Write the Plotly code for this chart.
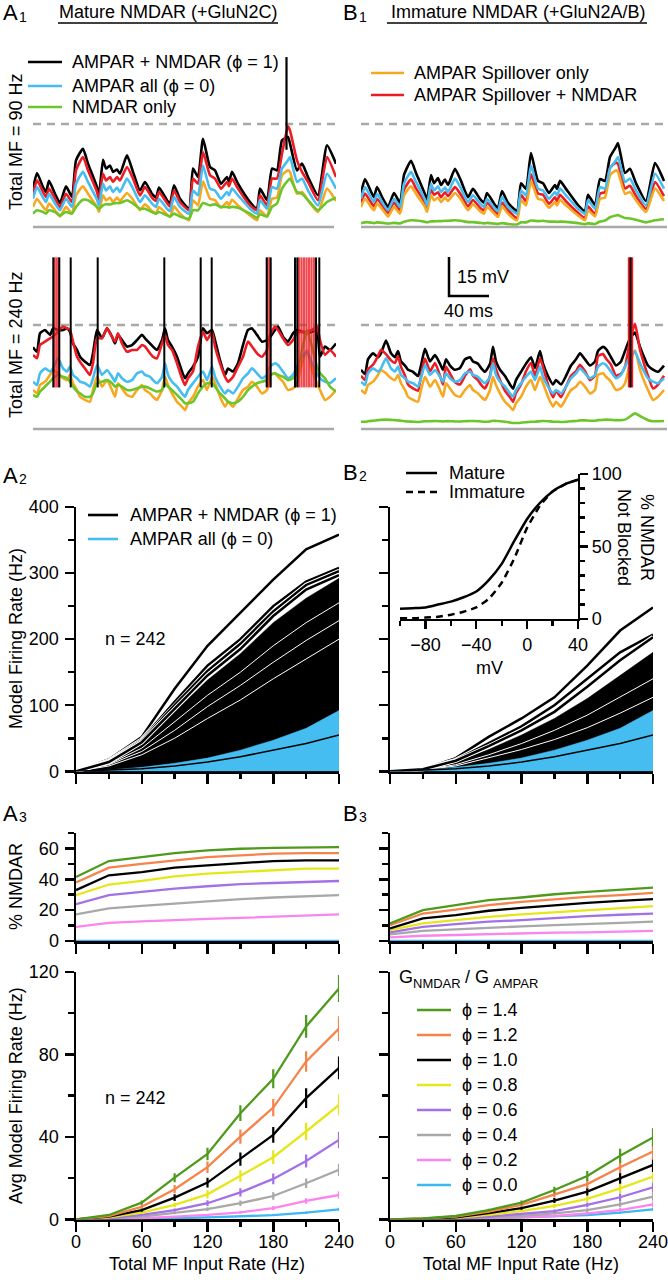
import plotly.graph_objects as go

# ====================== DATA ======================
# --- A1/B1 membrane potential traces: time (ms), potential (mV above rest) ---
t90 = [0,4,10,13,16,22,27,33,39,43,50,55,64,66,70,73,77,80,84,87,94,100,107,112,119,123,126,134,137,141,
       147,156,160,165,170,177,182,188,194,196,199,205,217,224,227,234,239,244,249,255,257,264,269,275,285,294,303]
a90_black = [14.9,21.0,15.5,13.6,17.9,12.9,9.3,15.8,11.7,25.9,30.4,24.6,15.5,12.3,26.1,22.7,23.9,21.4,22.3,20.7,
             27.8,21.4,14.2,17.5,12.9,11.4,15.3,10.4,9.1,16.2,11.0,7.1,22.7,19.4,34.3,23.3,22.0,16.8,19.4,17.5,
             21.4,16.8,9.7,7.1,14.9,10.4,22.7,22.0,33.7,35.0,32.4,22.0,24.6,19.4,12.3,31.7,24.6]
a90_red = [12.9,18.1,13.6,11.7,14.9,11.0,7.8,12.9,9.7,22.0,27.2,22.0,13.6,10.6,20.7,18.1,19.4,17.5,19.4,18.1,
           23.3,18.8,12.3,15.5,11.4,10.1,13.6,9.3,8.0,14.2,9.7,6.5,18.8,16.8,29.1,20.1,18.8,14.9,17.5,15.8,
           18.8,14.9,8.4,6.5,12.3,8.4,18.8,18.8,28.5,39.1,37.5,25.9,21.4,17.5,10.4,27.2,19.4]
a90_blue = [11.0,15.5,11.4,9.7,12.9,9.1,6.5,11.0,7.8,16.8,21.4,17.5,10.6,8.4,16.8,14.2,15.8,13.6,15.3,13.6,
            18.8,14.9,9.7,12.3,9.1,7.8,11.0,7.1,6.2,11.7,7.8,5.2,14.2,12.3,23.9,14.9,14.2,11.0,13.6,12.3,
            14.9,12.3,7.1,5.2,10.4,7.1,15.5,14.9,22.7,25.9,27.2,17.5,18.8,14.2,8.4,20.7,14.9]
a90_orange = [7.8,11.0,7.8,6.5,9.1,6.5,4.1,7.8,5.2,12.3,15.8,12.9,7.8,5.8,12.3,10.4,11.4,9.7,11.4,10.1,
              13.2,10.6,6.5,8.8,6.2,5.2,7.8,4.9,3.9,8.0,5.2,2.6,10.4,8.4,17.7,11.0,10.4,7.5,9.7,8.4,
              10.6,8.4,4.5,2.6,6.5,4.1,11.0,11.4,20.1,22.0,21.4,12.9,13.6,10.4,5.8,14.9,10.1]
a90_green = [5.2,6.5,5.8,5.2,6.5,5.8,4.5,5.8,5.2,7.8,10.6,10.4,7.8,7.1,8.4,8.8,8.8,9.1,9.3,9.3,
             10.4,9.1,7.1,7.1,5.8,5.2,5.8,4.5,4.1,5.2,4.1,3.2,6.5,6.5,9.3,8.4,8.8,7.8,7.8,7.5,
             7.8,7.5,5.2,3.6,4.9,4.1,7.8,9.1,14.9,18.1,18.8,13.6,12.9,10.4,6.5,9.7,11.4]
b90_black = [13.2,18.6,13.7,11.6,15.5,10.9,7.8,13.2,9.4,20.2,25.7,21.0,12.7,10.1,20.2,17.0,19.0,16.3,18.4,16.3,
             22.6,17.9,11.6,14.8,10.9,9.4,13.2,8.5,7.4,14.0,9.4,6.2,17.0,14.8,28.7,17.9,17.0,13.2,16.3,14.8,
             17.9,14.8,8.5,6.2,12.5,8.5,18.6,17.9,27.2,31.1,32.6,21.0,22.6,17.0,10.1,24.8,17.9]
b90_red = [9.5,13.0,9.5,8.0,11.0,8.0,5.5,9.5,6.5,14.5,18.5,15.0,9.5,7.0,14.5,12.5,13.5,11.5,13.5,12.0,
           15.5,12.5,8.0,10.5,7.5,6.5,9.5,6.0,5.0,9.5,6.5,3.5,12.5,10.0,20.5,13.0,12.5,9.0,11.5,10.0,
           12.5,10.0,5.5,3.5,8.0,5.0,13.0,13.5,23.0,25.0,24.5,15.0,16.0,12.0,7.0,17.5,12.0]
b90_green = [1.5,1.8,1.7,1.5,1.8,1.6,1.3,1.6,1.4,2.0,2.6,2.5,2.0,1.8,2.2,2.2,2.3,2.3,2.4,2.4,
             2.6,2.4,1.9,1.9,1.6,1.4,1.6,1.3,1.2,1.5,1.2,1.0,1.8,1.8,2.5,2.3,2.4,2.1,2.1,2.0,
             2.1,2.0,1.5,1.1,1.4,1.2,2.1,2.5,3.8,4.5,4.6,3.5,3.3,2.8,1.8,2.6,3.0]
# AMPAR-only conditions (blue, orange) are the same simulation in A1 and B1
b90_blue = a90_blue
b90_orange = a90_orange
a90_black_spikes = [253.5]

t240 = [0,4,7,12,17,20,25,30,34,37,40,44,47,52,57,60,64,69,74,79,82,85,89,94,99,104,109,112,117,120,
        124,129,132,135,139,144,149,152,155,160,165,170,174,179,182,187,192,195,200,205,210,215,219,224,229,
        234,237,242,245,250,255,260,264,269,274,279,284,287,292,297,303]
a240_black = [31.4,29.7,36.8,38.1,36.2,38.7,38.1,38.1,38.7,37.4,32.9,30.4,27.8,25.9,24.6,29.1,38.1,34.9,38.7,35.5,
              32.9,36.2,34.2,31.7,32.3,34.2,36.2,34.9,32.9,31.7,30.4,34.2,38.7,34.2,31.7,27.8,22.1,19.5,21.4,24.0,
              27.8,38.7,36.8,38.1,34.2,26.5,20.8,23.3,22.1,25.3,32.3,38.1,38.7,36.2,33.6,34.2,35.3,38.1,39.4,35.5,
              33.6,36.8,38.1,37.4,36.8,37.4,38.1,27.8,31.7,30.4,32.9]
a240_red = [28.5,27.2,32.3,33.6,34.9,35.5,37.4,39.4,38.7,38.1,33.6,27.8,25.9,23.3,20.8,25.3,34.9,34.9,38.7,35.5,
            33.6,36.8,32.9,29.7,30.4,30.4,32.3,31.7,29.1,27.8,27.2,32.9,36.2,32.3,30.4,25.3,19.5,16.9,19.5,22.1,
            31.7,37.4,34.2,37.4,31.7,25.3,20.1,18.2,20.1,24.0,27.8,33.6,31.7,29.1,27.8,30.4,36.2,39.4,38.1,34.9,
            32.3,34.2,36.8,37.4,37.4,38.1,39.4,34.2,28.5,30.4,27.8]
a240_blue = [18.2,16.9,21.4,23.3,22.1,23.3,27.2,23.3,22.1,24.0,20.8,19.5,18.2,17.6,16.3,19.5,24.6,20.8,22.7,20.1,
             18.2,21.4,19.5,18.2,18.8,21.4,22.1,20.8,20.1,18.8,17.6,20.1,25.3,20.8,18.2,16.3,13.7,12.4,15.0,17.6,
             20.1,22.1,18.8,24.0,20.1,16.3,13.7,15.0,13.7,16.3,19.5,21.4,23.3,21.4,19.5,20.8,24.0,25.3,24.6,22.1,
             19.5,20.8,24.0,27.8,29.7,25.3,21.4,19.5,18.2,17.6,19.5]
a240_orange = [15.0,13.7,16.9,18.2,20.8,22.7,21.4,19.5,18.8,20.8,17.6,15.0,12.4,11.2,10.5,15.0,20.1,16.3,18.8,15.0,
               12.4,17.6,15.6,13.1,12.4,15.0,16.9,15.0,13.7,12.4,11.2,15.0,20.1,16.9,13.7,10.5,8.6,7.3,9.9,12.4,
               16.3,18.8,15.0,20.1,17.6,12.4,8.6,10.5,8.6,11.8,15.0,16.3,18.2,16.3,13.7,15.0,20.8,21.4,20.1,18.2,
               15.0,15.6,17.6,25.3,30.4,22.7,17.6,15.0,11.2,12.4,15.0]
a240_green = [13.1,12.4,14.4,16.3,18.2,19.5,20.8,20.1,19.5,18.2,16.3,14.4,13.7,12.4,12.4,13.7,17.6,18.2,18.8,17.6,
              16.3,16.9,16.3,15.0,15.0,15.6,16.3,16.3,15.6,15.0,14.4,15.0,17.6,16.3,15.0,13.1,11.2,9.9,9.9,10.5,
              13.7,16.3,17.6,17.6,16.3,13.7,11.8,10.5,9.9,10.5,12.4,15.0,16.3,17.6,18.2,18.8,20.8,21.4,20.8,20.1,
              18.8,19.5,21.4,30.4,38.1,31.7,24.0,21.4,19.5,16.3,14.4]
b240_black = [22.8,21.1,26.8,29.1,27.6,29.1,34.0,29.1,27.6,30.0,26.0,24.4,22.8,22.0,20.4,24.4,30.8,26.0,28.4,25.1,
              22.8,26.8,24.4,22.8,23.5,26.8,27.6,26.0,25.1,23.5,22.0,25.1,31.6,26.0,22.8,20.4,17.1,15.5,18.8,22.0,
              25.1,27.6,23.5,30.0,25.1,20.4,17.1,18.8,17.1,20.4,24.4,26.8,29.1,26.8,24.4,26.0,30.0,31.6,30.8,27.6,
              24.4,26.0,30.0,34.8,37.1,31.6,26.8,24.4,22.8,22.0,24.4]
b240_red = [20.5,18.8,23.0,24.7,28.0,30.5,28.8,26.4,25.4,28.0,23.9,20.5,17.1,15.6,14.7,20.5,27.1,22.2,25.4,20.5,
            17.1,23.9,21.3,18.0,17.1,20.5,23.0,20.5,18.8,17.1,15.6,20.5,27.1,23.0,18.8,14.7,12.2,10.5,13.9,17.1,
            22.2,25.4,20.5,27.1,23.9,17.1,12.2,14.7,12.2,16.3,20.5,22.2,24.7,22.2,18.8,20.5,28.0,28.8,27.1,24.7,
            20.5,21.3,23.9,33.9,40.5,30.5,23.9,20.5,15.6,17.1,20.5]
b240_green = [2.8,2.8,3.0,3.2,3.4,3.5,3.6,3.5,3.4,3.3,3.2,3.0,2.9,2.8,2.7,2.8,3.0,3.0,3.1,3.0,
              2.9,3.0,3.0,2.9,2.9,3.0,3.1,3.1,3.0,2.9,2.8,2.9,3.2,3.1,3.0,2.8,2.5,2.3,2.3,2.4,
              2.6,2.8,2.8,3.0,3.1,3.0,2.8,2.8,2.7,2.8,3.0,3.1,3.3,3.3,3.2,3.2,3.4,3.5,3.6,3.5,
              3.4,3.4,3.6,4.8,6.0,5.0,4.0,3.4,3.0,3.0,3.1]
b240_blue = a240_blue
b240_orange = a240_orange
a240_black_spikes = [20.3, 26.3, 37.7, 64.7, 131.3, 167.7, 178.7, 233.7, 237.7, 262.0, 264.3, 283.0, 286.3]
a240_red_spikes = [21.5, 23.5, 25.3, 234.7, 236.7, 266.0, 268.5, 271.0, 273.5, 276.0, 278.5, 281.0]
b240_black_spikes = [269.5]
b240_red_spikes = [268.3, 270.7]
spike_peak_mv = 66.0
spike_trough_mv = 16.0
a90_spike_trough_mv = 30.0
rest_mv = 0.0
threshold_mv = 40.0

# --- A2/B2 model firing rates (Hz) vs total MF input rate (Hz) ---
rate_x = [0, 30, 60, 90, 120, 150, 180, 210, 240]
a2_black_lines = [[0, 18, 52, 125, 190, 240, 290, 336, 358],
                  [0, 16, 48, 105, 160, 200, 250, 287, 308],
                  [0, 15, 46, 100, 152, 193, 242, 282, 303],
                  [0, 14, 44, 95, 145, 185, 235, 275, 297]]
a2_black_band_top = [0, 13, 42, 90, 138, 178, 225, 262, 292]
a2_gaps = [[0, 11, 35, 75, 115, 150, 190, 225, 255],
           [0, 10, 30, 62, 98, 130, 165, 198, 228],
           [0, 8, 25, 50, 80, 108, 140, 170, 200]]
blue_band_top = [0, 2, 6, 12, 20, 32, 47, 65, 92]
black_in_blue = [[0, 1.5, 4, 8, 14, 22, 32, 42, 55]]
b2_black_lines = [[0, 3, 20, 52, 80, 112, 160, 213, 248],
                  [0, 3, 17, 42, 68, 100, 140, 180, 207],
                  [0, 3, 16, 38, 62, 90, 128, 168, 203]]
b2_black_band_top = [0, 3, 14, 33, 55, 80, 110, 145, 180]
b2_gaps = [[0, 2, 10, 25, 42, 62, 85, 112, 140],
           [0, 2, 8, 20, 33, 48, 66, 88, 112]]

# --- B2 inset: Mg block (% NMDAR not blocked) vs membrane potential ---
mv = [-100, -90, -80, -70, -60, -50, -40, -30, -20, -10, 0, 10, 20, 30, 40]
mature_unblocked = [7, 7.5, 8, 10, 12, 15, 19, 27, 38, 54, 69, 80, 88, 93, 96]
immature_unblocked = [0.5, 0.5, 1, 1.5, 3, 5, 8, 14, 25, 42, 63, 78, 88, 93, 96]

# --- A3/B3 % NMDAR, A4/B4 average firing rate, for each phi ---
phi_labels = ['ϕ = 1.4', 'ϕ = 1.2', 'ϕ = 1.0', 'ϕ = 0.8', 'ϕ = 0.6', 'ϕ = 0.4', 'ϕ = 0.2', 'ϕ = 0.0']
phi_colors = ['#4e9a1c', '#f5834a', '#000000', '#e6e61a', '#a470e6', '#a8a8a8', '#fb84ef', '#3db8f2']
a3_pct = [[41.5, 51.8, 54.4, 57, 58.7, 59.8, 60.4, 60.8, 60.8],
          [37.9, 47.5, 50, 52.3, 54.4, 55.5, 56.6, 57, 57],
          [33, 42.6, 44.7, 47.5, 49, 50.5, 51.8, 52.3, 52.3],
          [29.7, 36.6, 38.9, 41.9, 43.7, 44.7, 45.8, 46.9, 46.9],
          [23.9, 29.7, 31.8, 34, 35.5, 36.8, 37.6, 38.3, 38.9],
          [17.2, 21.1, 22.8, 24.3, 25.8, 27.1, 28.2, 29, 29.7],
          [9.2, 11.8, 12.7, 13.7, 14.4, 15, 15.7, 16.6, 17.2],
          [0, 0, 0, 0, 0, 0, 0, 0, 0]]
b3_pct = [[11.4, 20, 23.2, 26.5, 28.2, 30.3, 31.8, 33.3, 34.6],
          [10.3, 17.8, 20.4, 23.2, 25.4, 27.1, 28.6, 29.7, 31.2],
          [8.2, 14.6, 16.8, 19.6, 21.5, 23.2, 24.7, 26, 27.1],
          [7.1, 11.4, 13.5, 15.7, 17.2, 18.5, 20, 21.1, 22.6],
          [5.6, 9.2, 11, 12.5, 13.5, 15, 16.1, 17, 17.8],
          [4.3, 6.5, 7.5, 8.6, 9.5, 10.3, 11.2, 11.8, 12.5],
          [2.4, 3.4, 3.9, 4.5, 5, 5.4, 5.6, 6, 6.5],
          [0, 0, 0, 0, 0, 0, 0, 0, 0]]
a4_rate = [[0, 2.1, 8.1, 20.2, 31.7, 51.5, 68.2, 93.6, 112],
           [0, 1.5, 6.1, 14.6, 25.3, 40.1, 54.2, 76.6, 92.5],
           [0, 1.3, 4.5, 10.5, 17.8, 29.2, 41, 58.8, 73.5],
           [0, 1.0, 3.2, 7, 12.1, 21, 30.1, 42.6, 55.5],
           [0, 0.6, 2.1, 4.5, 7.8, 13.1, 19.6, 28.3, 38.5],
           [0, 0.4, 1.3, 3, 4.9, 7.8, 11.3, 17.5, 24],
           [0, 0.2, 0.5, 1.3, 2.1, 3.4, 5.4, 8.9, 11.8],
           [0, 0.1, 0.2, 0.5, 0.9, 1.4, 2.0, 3.2, 4.8]]
a4_sem = [[0, 0.3, 1, 2.2, 3, 3.8, 4.6, 5.5, 6.5],
          [0, 0.3, 0.9, 2, 2.8, 3.5, 4.2, 5, 6],
          [0, 0.2, 0.8, 1.6, 2.4, 3.2, 3.8, 4.8, 5.5],
          [0, 0.2, 0.6, 1.2, 2, 2.8, 3.4, 4.2, 5],
          [0, 0.1, 0.4, 0.8, 1.4, 2, 2.6, 3.2, 4],
          [0, 0.1, 0.3, 0.5, 0.9, 1.3, 1.8, 2.3, 3],
          [0, 0, 0.2, 0.3, 0.5, 0.7, 1, 1.3, 1.8],
          [0, 0, 0.1, 0.2, 0.3, 0.3, 0.4, 0.6, 0.8]]
b4_rate = [[0, 0.4, 1.6, 4.5, 8.1, 14.2, 21, 30.8, 39.7],
           [0, 0.3, 1.3, 3.7, 7, 12, 17.1, 25.3, 32.9],
           [0, 0.2, 1, 3, 5.4, 9.1, 13.4, 19.9, 26.4],
           [0, 0.2, 0.7, 2.1, 4, 6.5, 9.9, 15, 20.7],
           [0, 0.1, 0.5, 1.3, 2.6, 4, 7, 10.7, 15.5],
           [0, 0.1, 0.3, 0.8, 1.6, 2.9, 4.5, 7.3, 11],
           [0, 0.1, 0.2, 0.5, 1, 1.6, 2.9, 4.5, 7.3],
           [0, 0.1, 0.2, 0.5, 0.9, 1.4, 2.0, 3.2, 4.8]]
b4_sem = [[0, 0.1, 0.3, 0.6, 1.0, 1.6, 2.4, 3.4, 4.5],
          [0, 0.1, 0.3, 0.5, 0.9, 1.4, 2.1, 3, 4],
          [0, 0.1, 0.2, 0.4, 0.8, 1.2, 1.8, 2.6, 3.5],
          [0, 0, 0.2, 0.3, 0.6, 1, 1.5, 2.2, 3],
          [0, 0, 0.1, 0.3, 0.5, 0.8, 1.2, 1.8, 2.5],
          [0, 0, 0.1, 0.2, 0.3, 0.6, 0.9, 1.4, 2],
          [0, 0, 0, 0.1, 0.2, 0.4, 0.6, 1, 1.4],
          [0, 0, 0.1, 0.2, 0.3, 0.3, 0.4, 0.6, 0.8]]

# ====================== STYLE / LAYOUT ======================
W, H = 668, 1280
FONT = 'Liberation Sans, Arial, Helvetica, sans-serif'
C_BLACK, C_RED, C_BLUE, C_ORANGE, C_GREEN = '#000000', '#ec1c24', '#45bdf0', '#f6a821', '#6cc529'
C_GRAY = '#a9a9a9'

fig = go.Figure()
layout = dict(width=W, height=H, autosize=False, margin=dict(l=0, r=0, t=0, b=0, pad=0, autoexpand=False),
              paper_bgcolor='white', plot_bgcolor='rgba(0,0,0,0)', showlegend=False,
              font=dict(family=FONT, size=18, color='black'))
annotations, shapes = [], []


def names(n):
    return ('x' if n == 1 else f'x{n}', 'y' if n == 1 else f'y{n}')


def add_axes(n, xpx, ypx, xr, yr, xopts=None, yopts=None):
    xa_name, ya_name = names(n)
    xk = 'xaxis' if n == 1 else f'xaxis{n}'
    yk = 'yaxis' if n == 1 else f'yaxis{n}'
    xa = dict(domain=[xpx[0] / W, xpx[1] / W], range=xr, anchor=ya_name, fixedrange=True, automargin=False)
    ya = dict(domain=[1 - ypx[1] / H, 1 - ypx[0] / H], range=yr, anchor=xa_name, fixedrange=True,
              automargin=False)
    xa.update(xopts or {})
    ya.update(yopts or {})
    layout[xk] = xa
    layout[yk] = ya


def axstyle(dtick, ticklen, mdtick, mlen, labels=True, tick0=0, mtick0=0, lw=2.5, standoff=0):
    return dict(visible=True, showline=True, linewidth=lw, linecolor='black', ticks='outside',
                tickwidth=lw, tickcolor='black', ticklen=ticklen, dtick=dtick, tick0=tick0,
                showticklabels=labels, tickfont=dict(size=18, family=FONT), showgrid=False,
                zeroline=False, layer='below traces', ticklabeloverflow='allow',
                ticklabelstandoff=standoff,
                minor=dict(dtick=mdtick, tick0=mtick0, ticklen=mlen, tickwidth=lw, tickcolor='black',
                           ticks='outside', showgrid=False))


HIDDEN = dict(visible=False, showgrid=False, zeroline=False)


def line(n, x, y, color, width=2.5, dash=None, smooth=False, **kw):
    xa, ya = names(n)
    ln = dict(color=color, width=width, dash=dash)
    if smooth:
        ln.update(shape='spline', smoothing=0.5)
    fig.add_trace(go.Scatter(x=x, y=y, xaxis=xa, yaxis=ya, mode='lines', line=ln,
                             hoverinfo='skip', **kw))


def spikes(n, times, lo, hi, color, width, opacity=1.0):
    xs, ys = [], []
    for t in times:
        xs += [t, t, None]
        ys += [lo, hi, None]
    line(n, xs, ys, color, width, opacity=opacity)


def txt(x, y, s, size=18, xanchor='center', yanchor='middle', angle=0):
    annotations.append(dict(x=x / W, y=1 - y / H, xref='paper', yref='paper', text=s, showarrow=False,
                            font=dict(size=size, color='black', family=FONT), xanchor=xanchor,
                            yanchor=yanchor, textangle=angle))


def panel_label(x, y, letter, digit):
    txt(x, y, letter, size=22, xanchor='left')
    txt(x + 16, y + 4, digit, size=14, xanchor='left')


def seg(x0, y0, x1, y1, color, width=2.5, dash=None):
    shapes.append(dict(type='line', xref='paper', yref='paper', x0=x0 / W, y0=1 - y0 / H,
                       x1=x1 / W, y1=1 - y1 / H, line=dict(color=color, width=width, dash=dash)))


# ---------------- trace panels (A1 / B1) ----------------
TOP = (40, 232)
BOT = (250, 432)
top_range = [(227 - TOP[1]) / 2.575, (227 - TOP[0]) / 2.575]
bot_range = [(429 - BOT[1]) / 2.6, (429 - BOT[0]) / 2.6]
add_axes(1, (33, 336), TOP, [0, 303], top_range, HIDDEN, HIDDEN)
add_axes(2, (33, 336), BOT, [0, 303], bot_range, HIDDEN, HIDDEN)
add_axes(3, (361, 667), TOP, [0, 306], top_range, HIDDEN, HIDDEN)
add_axes(4, (361, 667), BOT, [0, 306], bot_range, HIDDEN, HIDDEN)

for n, tend in [(1, 301), (2, 301), (3, 306), (4, 306)]:
    line(n, [0, tend], [rest_mv, rest_mv], C_GRAY, 2.5)
    line(n, [0, tend + 2], [threshold_mv, threshold_mv], C_GRAY, 2.5, dash='8px,6px')


def trace_set(n, t, blk, red, blu, org, grn):
    line(n, t, blk, C_BLACK, 2.6, smooth=True)
    line(n, t, red, C_RED, 2.6, smooth=True)
    line(n, t, org, C_ORANGE, 2.6, smooth=True)
    line(n, t, blu, C_BLUE, 2.6, smooth=True)
    line(n, t, grn, C_GREEN, 2.6, smooth=True)


trace_set(1, t90, a90_black, a90_red, a90_blue, a90_orange, a90_green)
spikes(1, a90_black_spikes, a90_spike_trough_mv, spike_peak_mv, C_BLACK, 2.2)
trace_set(2, t240, a240_black, a240_red, a240_blue, a240_orange, a240_green)
spikes(2, a240_red_spikes, spike_trough_mv, spike_peak_mv, C_RED, 2.2, opacity=0.8)
spikes(2, a240_black_spikes, spike_trough_mv, spike_peak_mv, C_BLACK, 2.0)
trace_set(3, t90, b90_black, b90_red, b90_blue, b90_orange, b90_green)
trace_set(4, t240, b240_black, b240_red, b240_blue, b240_orange, b240_green)
spikes(4, b240_red_spikes, spike_trough_mv, spike_peak_mv, C_RED, 3.0)
spikes(4, b240_black_spikes, spike_trough_mv, spike_peak_mv, C_BLACK, 2.0)

# scale bar (15 mV, 40 ms) in B1 lower panel coordinates
sb_t0, sb_v0 = 88, 51.2
line(4, [sb_t0, sb_t0, sb_t0 + 40], [sb_v0 + 15, sb_v0, sb_v0], C_BLACK, 2.5)
txt(455, 277, '15 mV', xanchor='left')
txt(469, 311, '40 ms')

# ---------------- A2 / B2 ----------------
A_X, B_X = (76, 339), (390, 653)
P2_Y = (507, 771.3)
add_axes(5, A_X, P2_Y, [0, 240], [0, 400], axstyle(60, 10, 30, 5, labels=False),
         axstyle(100, 9, 50, 6, standoff=2))
add_axes(6, B_X, P2_Y, [0, 240], [0, 400], axstyle(60, 10, 30, 5, labels=False),
         axstyle(100, 9, 50, 6, labels=False))


def rate_panel(n, lines_, band_top, gaps):
    zeros = [0] * len(rate_x)
    line(n, rate_x + rate_x[::-1], band_top + zeros[::-1], C_BLACK, 0.5, fill='toself',
         fillcolor=C_BLACK)
    for g in gaps:
        line(n, rate_x, g, 'white', 1.0)
    for ln in lines_:
        line(n, rate_x, ln, 'white', 4.5)
        line(n, rate_x, ln, C_BLACK, 2.5)
    line(n, rate_x + rate_x[::-1], blue_band_top + zeros[::-1], C_BLUE, 0.5, fill='toself',
         fillcolor=C_BLUE)
    for ln in black_in_blue:
        line(n, rate_x, ln, C_BLACK, 1.5)


rate_panel(5, a2_black_lines, a2_black_band_top, a2_gaps)
rate_panel(6, b2_black_lines, b2_black_band_top, b2_gaps)

# inset (B2)
add_axes(7, (400, 578), (474, 619), [-100, 40], [0, 100],
         axstyle(40, 8, 20, 5, tick0=-80, mtick0=-100, lw=2.2),
         dict(axstyle(50, 8, 10, 5, lw=2.2), side='right'))
line(7, mv, mature_unblocked, C_BLACK, 2.5, smooth=True)
line(7, mv, immature_unblocked, C_BLACK, 2.5, dash='7px,5px', smooth=True)
txt(490, 668, 'mV')
txt(636, 537, '% NMDAR<br>Not Blocked', angle=90)
seg(406, 473, 437, 473, C_BLACK)
seg(406, 492, 437, 492, C_BLACK, dash='7px,5px')
txt(447, 473, 'Mature', xanchor='left')
txt(447, 492, 'Immature', xanchor='left')

# ---------------- A3 / B3 ----------------
P3_Y = (833, 941)
add_axes(8, A_X, P3_Y, [0, 240], [0, 70], axstyle(60, 10, 30, 5, labels=False),
         axstyle(20, 9, 10, 6, standoff=2))
add_axes(9, B_X, P3_Y, [0, 240], [0, 70], axstyle(60, 10, 30, 5, labels=False),
         axstyle(20, 9, 10, 6, labels=False))
for i in range(len(phi_labels) - 1, -1, -1):
    line(8, rate_x, a3_pct[i], phi_colors[i], 2.3)
    line(9, rate_x, b3_pct[i], phi_colors[i], 2.3)

# ---------------- A4 / B4 ----------------
P4_Y = (972, 1219.3)
add_axes(10, A_X, P4_Y, [0, 240], [0, 120], axstyle(60, 10, 30, 5, standoff=-5),
         axstyle(40, 9, 20, 6, standoff=2))
add_axes(11, B_X, P4_Y, [0, 240], [0, 120], axstyle(60, 10, 30, 5, standoff=-5),
         axstyle(40, 9, 20, 6, labels=False))
for i in range(len(phi_labels) - 1, -1, -1):
    for n, rates, sems in [(10, a4_rate, a4_sem), (11, b4_rate, b4_sem)]:
        xa, ya = names(n)
        fig.add_trace(go.Scatter(x=rate_x, y=rates[i], xaxis=xa, yaxis=ya, mode='lines',
                                 line=dict(color=phi_colors[i], width=2.3), hoverinfo='skip',
                                 error_y=dict(type='data', array=sems[i], visible=True,
                                              thickness=2.2, width=0, color=phi_colors[i])))

# ---------------- text, legends, labels ----------------
panel_label(1, 13, 'A', '1')
panel_label(341, 13, 'B', '1')
panel_label(1, 475, 'A', '2')
panel_label(341, 472, 'B', '2')
panel_label(1, 813, 'A', '3')
panel_label(341, 813, 'B', '3')

txt(168, 12, 'Mature NMDAR (+GluN2C)')
seg(58, 23, 278, 23, C_BLACK, 1.5)
txt(518, 12, 'Immature NMDAR (+GluN2A/B)')
seg(387, 23, 647, 23, C_BLACK, 1.5)

txt(16, 142, 'Total MF = 90 Hz', angle=-90)
txt(16, 345, 'Total MF = 240 Hz', angle=-90)

for y, c, s in [(62, C_BLACK, 'AMPAR + NMDAR (ϕ = 1)'), (86, C_BLUE, 'AMPAR all (ϕ = 0)'),
                (107, C_GREEN, 'NMDAR only')]:
    seg(28, y, 62, y, c, 2.6)
    txt(70, y, s, xanchor='left')
for y, c, s in [(73, C_ORANGE, 'AMPAR Spillover only'), (95, C_RED, 'AMPAR Spillover + NMDAR')]:
    seg(371, y, 404, y, c, 2.6)
    txt(412, y, s, xanchor='left')

for y, c, s in [(515, C_BLACK, 'AMPAR + NMDAR (ϕ = 1)'), (539, C_BLUE, 'AMPAR all (ϕ = 0)')]:
    seg(88, y, 118, y, c, 2.6)
    txt(128, y, s, xanchor='left')
txt(103, 639, 'n = 242', xanchor='left')
txt(103, 1098, 'n = 242', xanchor='left')

txt(16, 639, 'Model Firing Rate (Hz)', angle=-90)
txt(16, 887, '% NMDAR', angle=-90)
txt(16, 1096, 'Avg Model Firing Rate (Hz)', angle=-90)
txt(207, 1264, 'Total MF Input Rate (Hz)')
txt(521, 1264, 'Total MF Input Rate (Hz)')

# G_NMDAR / G_AMPAR legend title
txt(397, 977, 'G', xanchor='left')
txt(411, 983, 'NMDAR', size=13, xanchor='left')
txt(463, 977, '/ G', xanchor='left')
txt(491, 983, 'AMPAR', size=13, xanchor='left')
for i, lab in enumerate(phi_labels):
    y = 1010 + i * 25
    seg(417, y, 451, y, phi_colors[i], 2.6)
    txt(460, y, lab, xanchor='left')

layout['annotations'] = annotations
layout['shapes'] = shapes
fig.update_layout(**layout)
fig.write_html('out.html', config={'displayModeBar': False, 'staticPlot': True},
               post_script="document.documentElement.style.margin='0';"
                           "document.body.style.margin='0';"
                           "document.body.style.overflow='hidden';")
